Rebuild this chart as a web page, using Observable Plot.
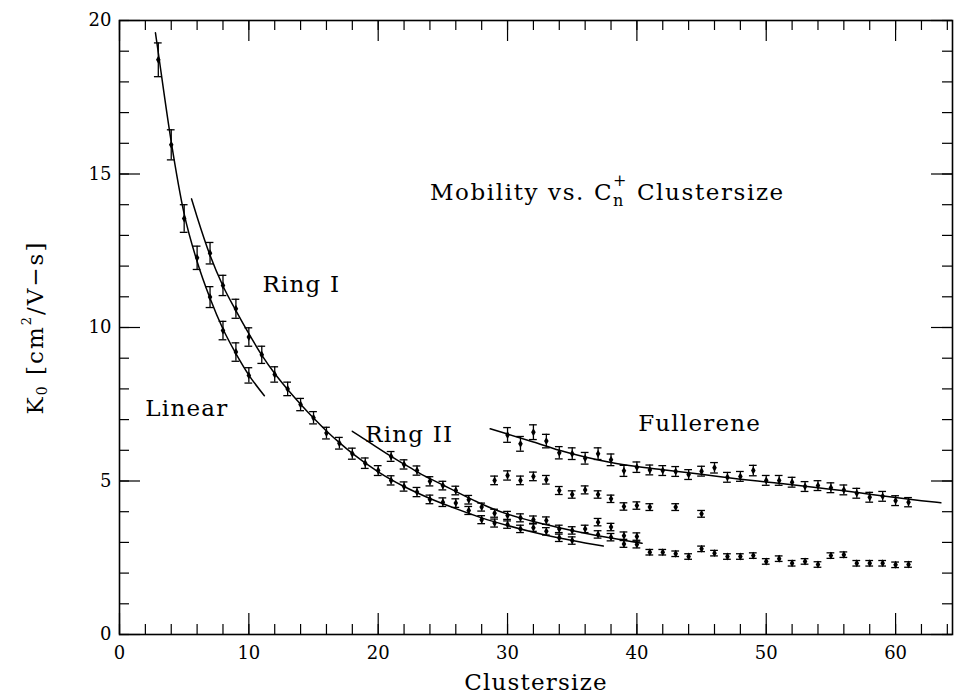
<!DOCTYPE html>
<html>
<head>
<meta charset="utf-8">
<script src="https://cdn.jsdelivr.net/npm/d3@7"></script>
<script src="https://cdn.jsdelivr.net/npm/@observablehq/plot@0.6"></script>
<style>
  html, body { margin: 0; padding: 0; background: #fff; }
</style>
</head>
<body>
<div id="chart"></div>
<script>
// ---- Data ----
const linearN = [3, 4, 5, 6, 7, 8, 9, 10];
const linearK = [18.72, 15.95, 13.55, 12.27, 10.99, 9.90, 9.20, 8.44];
const linearE = [0.55, 0.49, 0.45, 0.38, 0.34, 0.30, 0.30, 0.25];

const ring1N = [7, 8, 9, 10, 11, 12, 13, 14, 15, 16, 17, 18, 19, 20, 21, 22, 23, 24, 25, 26, 27, 28, 29, 30, 31, 32, 33, 34, 35];
const ring1K = [12.42, 11.37, 10.61, 9.69, 9.11, 8.47, 8.00, 7.49, 7.06, 6.56, 6.23, 5.89, 5.58, 5.34, 5.02, 4.82, 4.64, 4.40, 4.31, 4.28, 4.04, 3.74, 3.63, 3.58, 3.44, 3.48, 3.36, 3.15, 3.06];
const ring1E = [0.35, 0.33, 0.31, 0.30, 0.28, 0.25, 0.22, 0.20, 0.20, 0.19, 0.19, 0.18, 0.17, 0.16, 0.15, 0.15, 0.15, 0.14, 0.14, 0.14, 0.13, 0.13, 0.13, 0.12, 0.12, 0.12, 0.12, 0.12, 0.12];

const ring2N = [21, 22, 23, 24, 25, 26, 27, 28, 29, 30, 31, 32, 33, 34, 35, 36, 37, 38, 39, 40];
const ring2K = [5.80, 5.54, 5.34, 4.99, 4.85, 4.69, 4.39, 4.15, 3.95, 3.88, 3.80, 3.74, 3.71, 3.44, 3.39, 3.44, 3.66, 3.50, 3.22, 3.19];
const ring2E = [0.16, 0.15, 0.15, 0.15, 0.14, 0.14, 0.14, 0.13, 0.13, 0.13, 0.13, 0.12, 0.12, 0.12, 0.12, 0.12, 0.12, 0.12, 0.12, 0.12];

const fullN = [30, 31, 32, 33, 34, 35, 36, 37, 38, 39, 40, 41, 42, 43, 44, 45, 46, 47, 48, 49, 50, 51, 52, 53, 54, 55, 56, 57, 58, 59, 60, 61];
const fullK = [6.50, 6.21, 6.59, 6.30, 5.92, 5.89, 5.74, 5.89, 5.69, 5.33, 5.45, 5.36, 5.34, 5.31, 5.21, 5.32, 5.43, 5.12, 5.15, 5.34, 5.02, 5.02, 4.96, 4.82, 4.85, 4.78, 4.71, 4.60, 4.47, 4.50, 4.36, 4.31];
const fullE = [0.24, 0.24, 0.24, 0.22, 0.20, 0.19, 0.19, 0.19, 0.19, 0.18, 0.17, 0.16, 0.16, 0.16, 0.16, 0.16, 0.17, 0.16, 0.16, 0.17, 0.16, 0.16, 0.16, 0.16, 0.16, 0.16, 0.16, 0.16, 0.16, 0.16, 0.16, 0.15];

const midN = [29, 30, 31, 32, 33, 34, 35, 36, 37, 38, 39, 40, 41, 43, 45];
const midK = [5.02, 5.18, 5.02, 5.15, 5.04, 4.69, 4.56, 4.71, 4.56, 4.42, 4.17, 4.20, 4.15, 4.15, 3.93];
const midE = [0.14, 0.15, 0.14, 0.14, 0.14, 0.13, 0.12, 0.13, 0.12, 0.12, 0.12, 0.12, 0.11, 0.11, 0.11];

const lowN = [37, 38, 39, 40, 41, 42, 43, 44, 45, 46, 47, 48, 49, 50, 51, 52, 53, 54, 55, 56, 57, 58, 59, 60, 61];
const lowK = [3.26, 3.17, 2.95, 2.93, 2.68, 2.68, 2.63, 2.54, 2.79, 2.65, 2.54, 2.54, 2.57, 2.38, 2.47, 2.32, 2.38, 2.28, 2.57, 2.60, 2.32, 2.32, 2.32, 2.27, 2.28];
const lowE = [0.12, 0.12, 0.11, 0.11, 0.09, 0.09, 0.09, 0.09, 0.09, 0.09, 0.09, 0.09, 0.09, 0.09, 0.09, 0.09, 0.09, 0.09, 0.09, 0.09, 0.09, 0.09, 0.09, 0.09, 0.09];

// fitted curves
const linearFitN = [2.78, 3, 4, 5, 6, 7, 8, 9, 10, 11.2];
const linearFitK = [19.6, 18.95, 16.05, 13.7, 12.15, 10.95, 9.95, 9.15, 8.45, 7.78];
const ring1FitN = [5.57, 6, 7, 8, 9, 10, 11, 12, 13, 14, 15, 16, 17, 18, 20, 22, 24, 26, 28, 30, 32, 34, 36, 37.4];
const ring1FitK = [14.19, 13.6, 12.35, 11.35, 10.55, 9.8, 9.1, 8.5, 7.98, 7.5, 7.05, 6.63, 6.25, 5.9, 5.3, 4.82, 4.43, 4.1, 3.8, 3.55, 3.33, 3.14, 2.98, 2.88];
const ring2FitN = [18.0, 19, 20, 21, 22, 23, 24, 25, 26, 27, 28, 29, 30, 32, 34, 36, 38, 40.4];
const ring2FitK = [6.62, 6.35, 6.07, 5.8, 5.55, 5.3, 5.08, 4.87, 4.66, 4.45, 4.25, 4.07, 3.92, 3.68, 3.48, 3.3, 3.14, 2.97];
const fullFitN = [28.66, 30, 32, 34, 36, 38, 40, 42, 44, 46, 48, 50, 52, 54, 56, 58, 60, 62, 63.5];
const fullFitK = [6.70, 6.53, 6.27, 6.0, 5.78, 5.6, 5.47, 5.37, 5.27, 5.16, 5.06, 4.97, 4.88, 4.78, 4.68, 4.57, 4.46, 4.36, 4.29];

// axis ticks
const xMinorTicks = [0, 2, 4, 6, 8, 10, 12, 14, 16, 18, 20, 22, 24, 26, 28, 30, 32, 34, 36, 38, 40, 42, 44, 46, 48, 50, 52, 54, 56, 58, 60, 62, 64];
const xMajorTicks = [0, 10, 20, 30, 40, 50, 60];
const yMinorTicks = [0, 1, 2, 3, 4, 5, 6, 7, 8, 9, 10, 11, 12, 13, 14, 15, 16, 17, 18, 19, 20];
const yMajorTicks = [0, 5, 10, 15, 20];

// annotation labels
const labelText = ["Linear", "Ring I", "Ring II", "Fullerene"];
const labelN = [2.0, 11.05, 19.0, 40.1];
const labelK = [7.13, 11.15, 6.26, 6.62];
const titleText = "Mobility vs. Cn+ Clustersize";
const titleN = 24.0, titleK = 14.14;
const xLabel = "Clustersize";
const yLabel = "K0 [cm2/V−s]";

// ---- Build tables ----
const pts = (N, K, E) => N.map((n, i) => ({n, k: K[i], e: E[i]}));
const fit = (N, K) => N.map((n, i) => ({n, k: K[i]}));
const allPts = [
  ...pts(linearN, linearK, linearE),
  ...pts(ring1N, ring1K, ring1E),
  ...pts(ring2N, ring2K, ring2E),
  ...pts(fullN, fullK, fullE),
  ...pts(midN, midK, midE),
  ...pts(lowN, lowK, lowE)
];
const fits = [fit(linearFitN, linearFitK), fit(ring1FitN, ring1FitK), fit(ring2FitN, ring2FitK), fit(fullFitN, fullFitK)];
const labels = labelText.map((t, i) => ({t, n: labelN[i], k: labelK[i]}));

const W = 955, H = 693;
const mL = 119, mR = 3, mT = 20, mB = 59;
const fh = H - mT - mB, fw = W - mL - mR;
const font = "DejaVu Serif";
const cap = 0.3;

const plot = Plot.plot({
  width: W, height: H,
  marginLeft: mL, marginRight: mR, marginTop: mT, marginBottom: mB,
  style: {fontFamily: font, fontSize: "18px", background: "#fff", color: "#000"},
  x: {domain: [0, 64.4], axis: null},
  y: {domain: [0, 20], axis: null},
  marks: [
    // inward ticks on all four sides
    Plot.tickX(xMinorTicks, {x: d => d, insetTop: fh - 10, stroke: "#000", strokeWidth: 1.2}),
    Plot.tickX(xMinorTicks, {x: d => d, insetBottom: fh - 10, stroke: "#000", strokeWidth: 1.2}),
    Plot.tickX(xMajorTicks, {x: d => d, insetTop: fh - 21, stroke: "#000", strokeWidth: 1.2}),
    Plot.tickX(xMajorTicks, {x: d => d, insetBottom: fh - 21, stroke: "#000", strokeWidth: 1.2}),
    Plot.tickY(yMinorTicks, {y: d => d, insetRight: fw - 10, stroke: "#000", strokeWidth: 1.2}),
    Plot.tickY(yMinorTicks, {y: d => d, insetLeft: fw - 10, stroke: "#000", strokeWidth: 1.2}),
    Plot.tickY(yMajorTicks, {y: d => d, insetRight: fw - 21, stroke: "#000", strokeWidth: 1.2}),
    Plot.tickY(yMajorTicks, {y: d => d, insetLeft: fw - 21, stroke: "#000", strokeWidth: 1.2}),
    Plot.axisX({ticks: xMajorTicks, tickSize: 0, tickPadding: 12, fontSize: 18, label: null, tickFormat: d => String(d)}),
    Plot.axisY({ticks: yMajorTicks, tickSize: 0, tickPadding: 8, fontSize: 18, label: null, tickFormat: d => String(d)}),
    Plot.frame({stroke: "#000", strokeWidth: 1.6}),
    // fitted curves
    ...fits.map(f => Plot.line(f, {x: "n", y: "k", curve: "monotone-x", stroke: "#000", strokeWidth: 1.5})),
    // error bars
    Plot.ruleX(allPts, {x: "n", y1: d => d.k - d.e, y2: d => d.k + d.e, stroke: "#000", strokeWidth: 1.3}),
    Plot.ruleY(allPts, {y: d => d.k + d.e, x1: d => d.n - cap, x2: d => d.n + cap, stroke: "#000", strokeWidth: 1.3}),
    Plot.ruleY(allPts, {y: d => d.k - d.e, x1: d => d.n - cap, x2: d => d.n + cap, stroke: "#000", strokeWidth: 1.3}),
    Plot.dot(allPts, {x: "n", y: "k", r: 2.4, symbol: "diamond", fill: "#000", stroke: "none"}),
    // annotations
    Plot.text(labels, {x: "n", y: "k", text: "t", textAnchor: "start", lineAnchor: "bottom", fontSize: 23, fill: "#000"}),
    Plot.text([titleText], {x: () => titleN, y: () => titleK, text: d => d, textAnchor: "start", lineAnchor: "bottom", fontSize: 23, fill: "#000"}),
    Plot.text([xLabel], {frameAnchor: "bottom", dy: 55, text: d => d, textAnchor: "middle", lineAnchor: "bottom", fontSize: 23, fill: "#000"}),
    Plot.text([yLabel], {frameAnchor: "left", dx: -84, rotate: -90, text: d => d, textAnchor: "middle", lineAnchor: "middle", fontSize: 23, fill: "#000"})
  ]
});

// rich text (subscripts / superscripts) and letter spacing
d3.select(plot).selectAll("text").each(function () {
  const s = d3.select(this);
  const t = this.textContent;
  if (t === titleText) {
    s.text(null).attr("letter-spacing", 1.6);
    s.append("tspan").text("Mobility vs. C");
    s.append("tspan").attr("font-size", 16).attr("dy", 6).text("n");
    s.append("tspan").attr("font-size", 16).attr("dx", -12).attr("dy", -20).text("+");
    s.append("tspan").attr("dy", 14).text(" Clustersize");
  } else if (t === yLabel) {
    s.text(null).attr("letter-spacing", 2);
    s.append("tspan").text("K");
    s.append("tspan").attr("font-size", 14).attr("dy", 4).text("0");
    s.append("tspan").attr("dy", -4).text(" [cm");
    s.append("tspan").attr("font-size", 13).attr("dy", -12).text("2");
    s.append("tspan").attr("dy", 12).text("/V−s]");
  } else if (t === xLabel || labelText.includes(t)) {
    s.attr("letter-spacing", 1.2);
  }
});

document.getElementById("chart").appendChild(plot);
</script>
</body>
</html>
